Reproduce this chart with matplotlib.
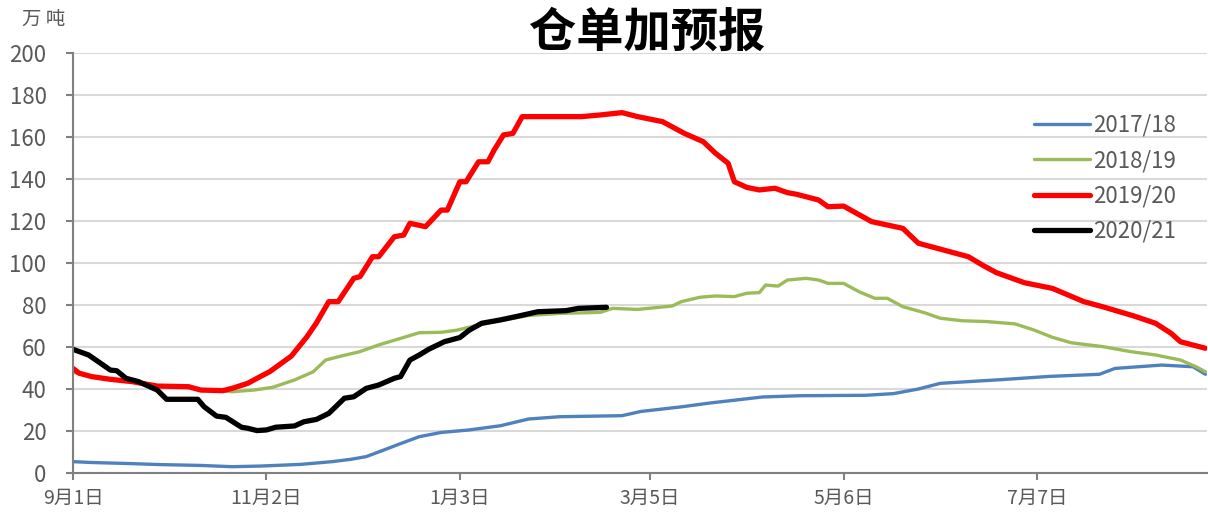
import numpy as np
import matplotlib
matplotlib.use('Agg')
import matplotlib.pyplot as plt

plt.rcParams['font.family'] = ['Noto Sans CJK SC', 'DejaVu Sans']

# days counted from 9月1日
blue_days = [0, 6, 18, 28, 41, 51, 60, 73, 83, 89, 94, 99, 105, 111, 118, 127, 137, 146, 156, 176,
             182, 195, 204, 221, 233, 254, 263, 271, 278, 298, 313, 329, 334, 349, 359, 363]
blue_vals = [5.4, 5.0, 4.5, 4.0, 3.6, 3.0, 3.3, 4.1, 5.4, 6.5, 7.8, 10.6, 14.0, 17.3, 19.3, 20.5, 22.5,
             25.7, 26.8, 27.3, 29.3, 31.5, 33.3, 36.2, 36.8, 37.0, 37.8, 40.0, 42.7, 44.5, 46.0, 47.0,
             49.8, 51.4, 50.6, 47.0]

green_days = [0, 6, 12, 19, 27, 37, 41, 48, 51, 58, 64, 71, 77, 81, 86, 92, 98, 105, 111, 118, 123,
              130, 137, 146, 156, 169, 173, 181, 192, 195, 201, 206, 212, 216, 220, 222, 226, 229, 235,
              239, 242, 247, 252, 257, 261, 266, 273, 278, 285, 293, 302, 308, 314, 320, 330, 339, 347,
              355, 360, 363]
green_vals = [48.0, 45.9, 44.8, 43.5, 41.4, 41.0, 39.5, 39.0, 38.7, 39.5, 40.8, 44.3, 48.2, 53.8, 55.7,
              57.8, 61.0, 64.1, 66.8, 67.0, 68.0, 70.5, 72.5, 75.0, 76.0, 76.5, 78.4, 77.9, 79.5, 81.6,
              83.7, 84.3, 84.0, 85.6, 85.9, 89.5, 89.0, 91.9, 92.7, 91.9, 90.3, 90.3, 86.3, 83.2, 83.2,
              79.2, 76.3, 73.7, 72.5, 72.1, 71.0, 68.1, 64.6, 62.0, 60.2, 57.8, 56.2, 53.8, 50.6, 48.2]

red_days = [0, 2, 6, 12, 19, 27, 37, 41, 48, 51, 56, 60, 63, 66, 70, 72, 75, 78, 82, 85, 90, 92, 96,
            98, 103, 106, 108, 113, 118, 120, 124, 126, 130, 133, 135, 138, 141, 144, 163, 169, 176,
            181, 189, 196, 202, 206, 210, 212, 216, 220, 225, 229, 232, 239, 242, 247, 256, 266, 271,
            277, 287, 292, 296, 305, 314, 324, 330, 340, 347, 352, 355, 363]
red_vals = [49.8, 47.5, 45.9, 44.6, 43.5, 41.4, 41.1, 39.5, 39.2, 40.3, 42.7, 45.9, 48.2, 51.4, 55.7,
            59.4, 64.9, 71.4, 81.6, 81.6, 92.7, 93.5, 103.0, 103.0, 112.5, 113.3, 118.9, 117.3, 125.2,
            125.2, 138.7, 138.7, 148.2, 148.2, 153.8, 161.0, 161.7, 169.7, 169.7, 170.5, 171.6, 169.7,
            167.3, 161.7, 157.8, 152.2, 147.5, 138.7, 136.0, 134.8, 135.6, 133.5, 132.7, 130.0, 126.8,
            127.1, 119.7, 116.5, 109.4, 107.0, 103.0, 98.6, 95.4, 90.6, 87.9, 81.6, 79.2, 74.8, 71.3,
            66.5, 62.5, 59.4]

black_days = [0, 5, 12, 14, 17, 21, 27, 30, 40, 42, 46, 49, 54, 56, 59, 62, 65, 71, 74, 78, 82, 87,
              90, 94, 98, 103, 105, 108, 111, 114, 119, 124, 127, 131, 137, 143, 149, 158, 162, 171]
black_vals = [58.9, 56.2, 49.0, 48.7, 45.1, 43.5, 39.5, 35.1, 35.1, 31.6, 27.1, 26.5, 21.8, 21.3, 20.2,
              20.5, 21.8, 22.4, 24.4, 25.5, 28.4, 35.6, 36.3, 40.3, 41.9, 45.1, 45.9, 53.8, 56.2, 58.9,
              62.5, 64.5, 68.0, 71.3, 72.9, 74.8, 76.8, 77.3, 78.4, 78.9]

tick_days = [0, 62, 124, 185, 247, 309]
tick_labels = ['9月1日', '11月2日', '1月3日', '3月5日', '5月6日', '7月7日']

fig = plt.figure(figsize=(12.08, 5.17), dpi=100)
ax = fig.add_axes([73 / 1208, 44 / 517, 1134 / 1208, 420 / 517])

ax.plot(blue_days, blue_vals, color='#4F81BD', lw=2.4, label='2017/18', solid_capstyle='round')
ax.plot(green_days, green_vals, color='#9BBB59', lw=2.4, label='2018/19', solid_capstyle='round')
ax.plot(red_days, red_vals, color='#FF0000', lw=3.8, label='2019/20', solid_capstyle='round')
ax.plot(black_days, black_vals, color='#000000', lw=3.8, label='2020/21', solid_capstyle='round')

ax.set_xlim(0, 363.5)
ax.set_ylim(0, 200)
ax.set_yticks(np.arange(0, 201, 20))
ax.set_xticks(tick_days)
ax.set_xticklabels(tick_labels)
ax.yaxis.grid(True, color='#D9D9D9', lw=1.5)
ax.set_axisbelow(True)
for s in ['top', 'right']:
    ax.spines[s].set_visible(False)
for s in ['left', 'bottom']:
    ax.spines[s].set_color('#808080')
    ax.spines[s].set_linewidth(1.5)
ax.tick_params(axis='both', colors='#808080', width=1.5, length=5, labelcolor='#595959')
ax.tick_params(axis='y', labelsize=16, pad=14)
ax.tick_params(axis='x', labelsize=14, pad=6)

fig.text(22 / 1208, 1 - 19 / 517, '万 吨', fontsize=14, color='#595959', va='center', ha='left')
fig.text(647 / 1208, 1 - 33 / 517, '仓单加预报', fontsize=34, fontweight='bold', color='black',
         ha='center', va='center')

leg = ax.legend(loc='upper left', bbox_to_anchor=(1014 / 1208, 1 - 94 / 517),
                bbox_transform=fig.transFigure, frameon=False, fontsize=16,
                handlelength=2.5, handletextpad=0.15, labelspacing=0.55)
for t in leg.get_texts():
    t.set_color('#595959')

fig.savefig('out.png', dpi=100)
